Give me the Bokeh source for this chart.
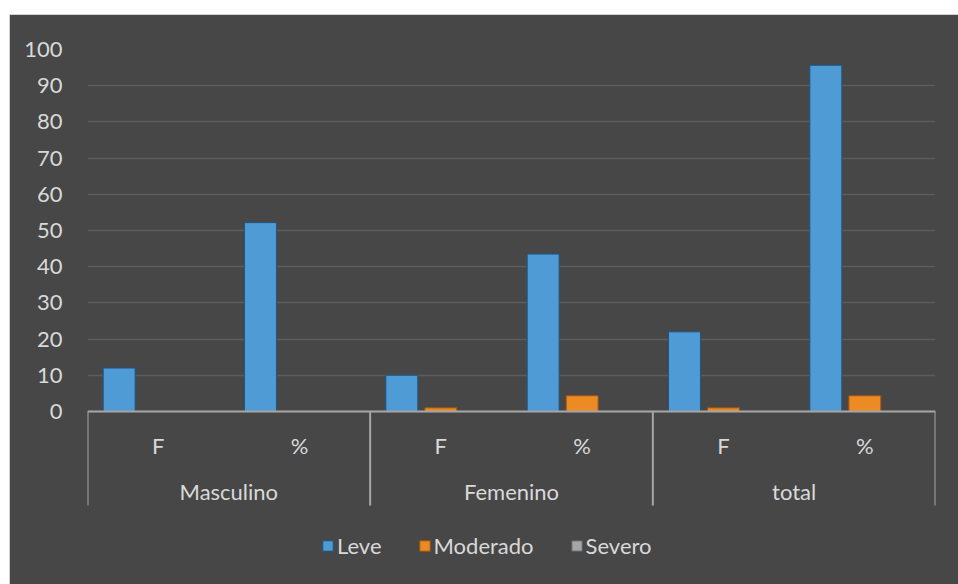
from bokeh.plotting import figure
from bokeh.models import (FactorRange, Range1d, FixedTicker, CategoricalAxis,
                          Legend, LegendItem, ColumnDataSource)
from bokeh.transform import dodge
from bokeh.embed import file_html
from bokeh.resources import INLINE

# ---- data ----
groups = ["Masculino", "Femenino", "total"]
subs = ["F", "%"]
leve = [12, 52.17, 10, 43.48, 22, 95.65]
moderado = [0, 0, 1, 4.35, 1, 4.35]
severo = [0, 0, 0, 0, 0, 0]
y_ticks = list(range(0, 101, 10))

factors = [(g, s) for g in groups for s in subs]
src = ColumnDataSource(dict(x=factors, leve=leve, moderado=moderado, severo=severo))

BG = "#474747"
TXT = "#d9d9d9"
FONT = "Lato"
FS = "22px"

p = figure(width=949, height=570,
           x_range=FactorRange(*factors, group_padding=0, range_padding=0),
           y_range=Range1d(-47.8, 100),
           output_backend="svg", toolbar_location=None,
           min_border_left=78, min_border_right=23, min_border_top=35,
           min_border_bottom=0, x_axis_location=None,
           margin=(14, 0, 0, 9))
p.background_fill_color = BG
p.border_fill_color = BG
p.outline_line_color = BG
p.outline_line_width = 3

# y axis
p.yaxis.ticker = FixedTicker(ticks=y_ticks)
p.yaxis.axis_line_color = None
p.yaxis.major_tick_line_color = None
p.yaxis.minor_tick_line_color = None
p.yaxis.major_label_standoff = 19
p.yaxis.major_label_text_color = TXT
p.yaxis.major_label_text_font = FONT
p.yaxis.major_label_text_font_size = FS

p.xgrid.visible = False
p.ygrid.grid_line_color = "#5c5c5c"
p.ygrid.grid_line_width = 1.5

# bars
series = [
    ("Leve", "leve", -0.276, "#4f9bd6", "#1f5582"),
    ("Moderado", "moderado", 0.0, "#ec8a24", "#9c5510"),
    ("Severo", "severo", 0.276, "#a6a6a6", "#5e5e5e"),
]
items = []
for name, col, off, fill, line in series:
    r = p.vbar(x=dodge("x", off, range=p.x_range), top=col, width=0.226,
               source=src, fill_color=fill, line_color=line, line_width=1)
    items.append(LegendItem(label=name, renderers=[r]))

# category axes
p.extra_x_ranges = {"groups": FactorRange(*groups, range_padding=0)}

ax1 = CategoricalAxis(fixed_location=0)
ax1.axis_line_color = "#a6a6a6"
ax1.axis_line_width = 2
ax1.major_tick_line_color = None
ax1.minor_tick_line_color = None
ax1.major_label_standoff = 15
ax1.major_label_text_color = TXT
ax1.major_label_text_font = FONT
ax1.major_label_text_font_size = FS
ax1.group_text_alpha = 0
ax1.separator_line_color = None
p.add_layout(ax1, "below")

ax2 = CategoricalAxis(x_range_name="groups", fixed_location=0)
ax2.axis_line_color = None
ax2.major_tick_line_color = None
ax2.minor_tick_line_color = None
ax2.major_label_standoff = 61
ax2.major_label_text_color = TXT
ax2.major_label_text_font = FONT
ax2.major_label_text_font_size = FS
p.add_layout(ax2, "below")

# group dividers
DIV_BOTTOM = -26
nb = len(groups) + 1
p.segment(x0=list(range(nb)), y0=[0] * nb, x1=list(range(nb)), y1=[DIV_BOTTOM] * nb,
          x_range_name="groups", line_color="#a6a6a6", line_width=2)

legend = Legend(items=items, location=(234, 25), orientation="horizontal")
legend.background_fill_alpha = 0
legend.border_line_color = None
legend.label_text_color = TXT
legend.label_text_font = FONT
legend.label_text_font_size = FS
legend.glyph_width = 13
legend.glyph_height = 13
legend.label_standoff = 3
legend.spacing = 36
legend.padding = 5
legend.margin = 0
p.add_layout(legend)

open("out.html", "w").write(file_html(p, INLINE))
